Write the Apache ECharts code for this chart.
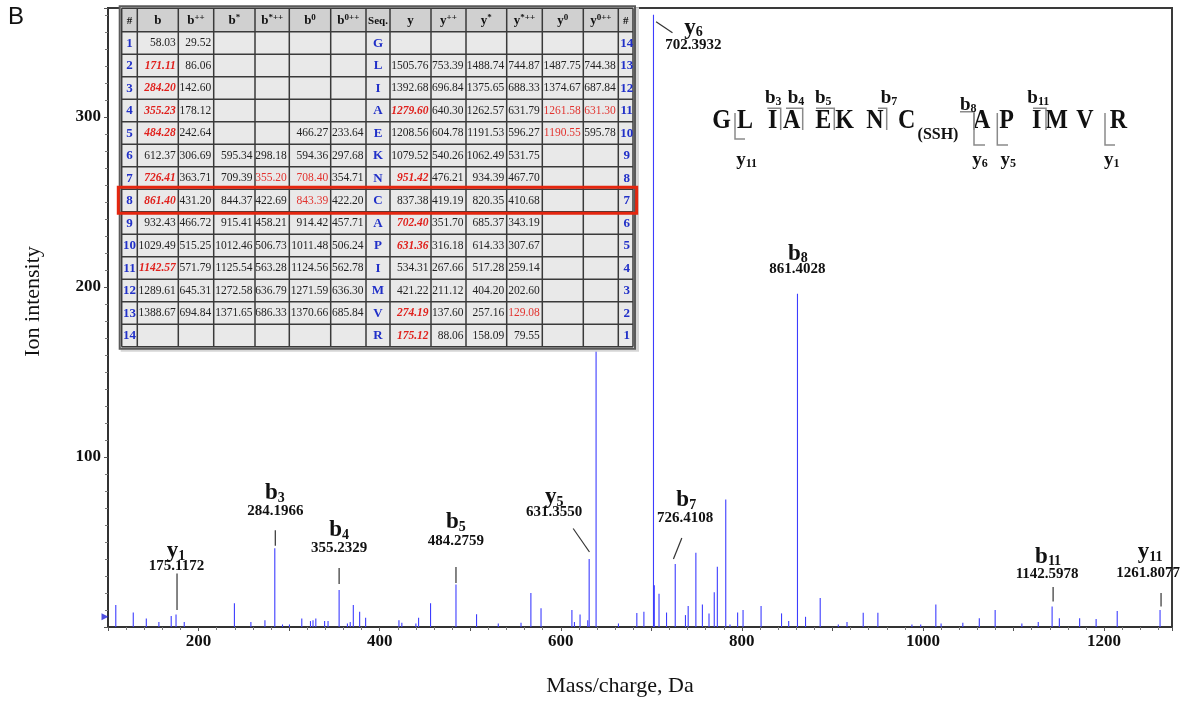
<!DOCTYPE html>
<html><head><meta charset="utf-8">
<script src="https://cdn.jsdelivr.net/npm/echarts@6/dist/echarts.min.js"></script>
<style>html,body{margin:0;padding:0;background:#fff}#c{width:1193px;height:703px}</style>
</head><body><div id="c"></div>
<script>
// ---------------- DATA ----------------
const peakMz = [108.6,127.9,142.3,156.2,169.8,175.12,184.2,239.6,257.8,273.3,284.2,292.7,300.4,314.0,323.6,326.4,329.5,339.2,343.0,355.23,364.4,367.5,370.9,377.9,384.5,421.3,424.5,440.0,443.0,456.2,484.28,507.0,531.0,556.1,567.0,578.2,612.3,615.1,621.3,629.8,631.36,639.0,663.7,684.0,691.8,702.39,703.3,708.5,716.8,726.41,737.7,740.7,749.2,756.4,763.7,769.5,772.9,782.2,786.9,795.3,801.3,821.2,843.8,851.7,861.40,870.3,886.5,906.5,916.1,934.0,950.2,987.8,997.5,1014.2,1020.0,1044.0,1062.2,1079.7,1109.2,1127.3,1142.6,1150.6,1173.0,1191.2,1214.5,1261.8];
const peakInt = [13,8.6,5,3,6.5,7.4,3,14,3,4,46.3,1.5,1.5,5,3.5,4,5,3.5,3.5,21.8,2,3,13,9,5.5,4,2.5,2,5.5,14,25,7.5,2,2.5,20,11,10,3,7.4,4,40,290,2,8.3,9,360,24.5,19.5,8.5,37,7,12.3,43.7,13.3,8,20.4,35.5,75,1.5,8.5,10,12.3,8,3.5,196,6,17,1.5,3,8.4,8.4,1.5,1.5,13.3,2,2.5,5.2,10,2,3,12,5.2,5.2,4.7,9.4,10];
const thresholdMark = [[100, 6]];

const annIon   = ['y','b','b','b','y','b','b','y','b','y'];
const annNum   = ['1','3','4','5','5','7','8','6','11','11'];
const annLabel = ['175.1172','284.1966','355.2329','484.2759','631.3550','726.4108','861.4028','702.3932','1142.5978','1261.8077'];
const annMz    = [175.12,284.2,355.23,484.28,631.36,726.41,861.40,702.39,1142.6,1261.8];

const xTicks = [200,400,600,800,1000,1200];
const yTicks = [100,200,300];

// fragment table
const tableHead = ['#','b','b++','b*','b*++','b0','b0++','Seq.','y','y++','y*','y*++','y0','y0++','#'];
const rowNo   = [1,2,3,4,5,6,7,8,9,10,11,12,13,14];
const bIon    = [58.03,171.11,284.20,355.23,484.28,612.37,726.41,861.40,932.43,1029.49,1142.57,1289.61,1388.67,null];
const bIon2   = [29.52,86.06,142.60,178.12,242.64,306.69,363.71,431.20,466.72,515.25,571.79,645.31,694.84,null];
const bStar   = [null,null,null,null,null,595.34,709.39,844.37,915.41,1012.46,1125.54,1272.58,1371.65,null];
const bStar2  = [null,null,null,null,null,298.18,355.20,422.69,458.21,506.73,563.28,636.79,686.33,null];
const bZero   = [null,null,null,null,466.27,594.36,708.40,843.39,914.42,1011.48,1124.56,1271.59,1370.66,null];
const bZero2  = [null,null,null,null,233.64,297.68,354.71,422.20,457.71,506.24,562.78,636.30,685.84,null];
const seqRes  = ['G','L','I','A','E','K','N','C','A','P','I','M','V','R'];
const yIon    = [null,1505.76,1392.68,1279.60,1208.56,1079.52,951.42,837.38,702.40,631.36,534.31,421.22,274.19,175.12];
const yIon2   = [null,753.39,696.84,640.30,604.78,540.26,476.21,419.19,351.70,316.18,267.66,211.12,137.60,88.06];
const yStar   = [null,1488.74,1375.65,1262.57,1191.53,1062.49,934.39,820.35,685.37,614.33,517.28,404.20,257.16,158.09];
const yStar2  = [null,744.87,688.33,631.79,596.27,531.75,467.70,410.68,343.19,307.67,259.14,202.60,129.08,79.55];
const yZero   = [null,1487.75,1374.67,1261.58,1190.55,null,null,null,null,null,null,null,null,null];
const yZero2  = [null,744.38,687.84,631.30,595.78,null,null,null,null,null,null,null,null,null];
const yNo     = [14,13,12,11,10,9,8,7,6,5,4,3,2,1];
const tableCols = [rowNo,bIon,bIon2,bStar,bStar2,bZero,bZero2,seqRes,yIon,yIon2,yStar,yStar2,yZero,yZero2,yNo];
// matched ions: column:row (1-based row)
const matchedMain = ['1:2','1:3','1:4','1:5','1:7','1:8','1:11','8:4','8:7','8:9','8:10','8:13','8:14'];
const matchedOther = ['4:7','5:7','5:8','12:4','13:4','12:5','11:13'];
const highlightRow = 8;

// peptide sequence diagram
const pepLetters = ['G','L','I','A','E','K','N','C','A','P','I','M','V','R'];
const pepMod = '(SSH)';
const pepCutIon = ['y','b','b','b','b','b','y','y','b','y'];
const pepCutNum = ['11','3','4','5','7','8','6','5','11','1'];

// ---------------- LAYOUT / STYLE ----------------
const SERIF = '"Liberation Serif","DejaVu Serif",serif';
const SANS = '"Liberation Sans",Arial,sans-serif';
const annLayout = [
  {name:[0,-63], num:[0.5,-48.5], lead:[[1,-41],[1,-4.5]]},
  {name:[0,-55], num:[0.5,-37.5], lead:[[0.5,-18],[0.5,-2.5]]},
  {name:[0,-60], num:[0,-41.5], lead:[[0,-22],[0,-6]]},
  {name:[0,-62], num:[0,-43.5], lead:[[0,-17.5],[0,-1.5]]},
  {name:[-35,-62], num:[-35,-47], lead:[[-16,-30.5],[0.3,-7]]},
  {name:[11,-64], num:[10,-46], lead:[[6.6,-26],[-1.8,-5]]},
  {name:[0.5,-40], num:[0,-25], lead:null},
  {name:[40,13], num:[40,30], lead:[[2.6,7],[19,18]]},
  {name:[-4,-50], num:[-5,-32], lead:[[1,-19.5],[1,-5]]},
  {name:[-10,-58], num:[-12,-37], lead:[[1,-17],[1,-3.5]]}
];
const pepX = [721.7,745,772.7,791.7,823.3,844.5,875,906.7,981.7,1006.7,1036.7,1056.7,1085,1118.3];
const pepY = 121;
const pepModPos = [938, 135];
const pepCutLayout = [
  {x:735, t:113, b:139, hx:745, hy:139, lx:746.7, ly:160},
  {x:780.7, t:108.3, b:130, hx:767.3, hy:108.3, lx:773.3, ly:98.3},
  {x:802.7, t:108.3, b:130, hx:786, hy:108.3, lx:796, ly:98.3},
  {x:834.3, t:108.3, b:130, hx:816, hy:108.3, lx:823.3, ly:98.3},
  {x:886.7, t:108.3, b:130, hx:878, hy:108.3, lx:889, ly:98.3},
  {x:974, t:111.7, b:130, hx:960, hy:111.7, lx:968.3, ly:105},
  {x:974, t:113, b:145, hx:985, hy:145, lx:980, ly:160},
  {x:997.3, t:113, b:145, hx:1008, hy:145, lx:1008.3, ly:160},
  {x:1046, t:108.3, b:130, hx:1033, hy:108.3, lx:1038.3, ly:98.3},
  {x:1105, t:113, b:145, hx:1115, hy:145, lx:1111.7, ly:160}
];
const TL = {x:[121.7,137.3,178.3,213.7,255,289.3,330.7,366,390,431,466,506.7,542.3,583.3,618.3,633], top:8.3, headH:23.4, rowH:22.5};

function intensityAt(m){
  let best=0;
  for(let i=1;i<peakMz.length;i++) if(Math.abs(peakMz[i]-m)<Math.abs(peakMz[best]-m)) best=i;
  return peakInt[best];
}

function buildTable(){
  const els=[]; const Z=100;
  const x0=TL.x[0], x1=TL.x[TL.x.length-1];
  const yTop=TL.top, yHead=TL.top+TL.headH, yBot=yHead+14*TL.rowH;
  els.push({type:'rect', z:Z, shape:{x:x0-1, y:yTop-1, width:x1-x0+7, height:yBot-yTop+6}, style:{fill:'#d6d6d6'}});
  els.push({type:'rect', z:Z, shape:{x:x0-2, y:yTop-2, width:x1-x0+4, height:yBot-yTop+4}, style:{fill:'#e9e9e9', stroke:'#5a5a5a', lineWidth:2}});
  els.push({type:'rect', z:Z, shape:{x:x0, y:yTop, width:x1-x0, height:TL.headH}, style:{fill:'#d0d0d0'}});
  for(let c=0;c<TL.x.length;c++) els.push({type:'line', z:Z+1, shape:{x1:TL.x[c], y1:yTop, x2:TL.x[c], y2:yBot}, style:{stroke:'#3a3a3a', lineWidth:1.5}});
  for(let r=0;r<=15;r++){ const y = r===0? yTop : yHead+(r-1)*TL.rowH;
    els.push({type:'line', z:Z+1, shape:{x1:x0, y1:y, x2:x1, y2:y}, style:{stroke:'#3a3a3a', lineWidth:1.5}}); }
  tableHead.forEach((h,c)=>{
    const cx=(TL.x[c]+TL.x[c+1])/2;
    let txt;
    if(h==='#'||h==='Seq.') txt='{s|'+h+'}';
    else { const sup=h.slice(1); txt='{m|'+h[0]+'}'+(sup?'{p|'+sup+'}':''); }
    els.push({type:'text', z:Z+2, x:cx, y:yTop+TL.headH/2+1, style:{text:txt, align:'center', verticalAlign:'middle',
      rich:{m:{fontFamily:SERIF,fontWeight:'bold',fontSize:13,fill:'#111',lineHeight:16},
            s:{fontFamily:SERIF,fontWeight:'bold',fontSize:11,fill:'#111',lineHeight:16},
            p:{fontFamily:SERIF,fontWeight:'bold',fontSize:9,fill:'#111',lineHeight:9,verticalAlign:'top'}}}});
  });
  tableCols.forEach((col,c)=>{
    col.forEach((v,r)=>{
      if(v===null||v===undefined) return;
      const cy=yHead+r*TL.rowH+TL.rowH/2+0.5;
      const key=c+':'+(r+1);
      if(c===0||c===7||c===14){
        els.push({type:'text', z:Z+2, x:(TL.x[c]+TL.x[c+1])/2+(c===14?1:0), y:cy, style:{text:String(v), align:'center', verticalAlign:'middle',
          font:'bold 13px '+SERIF, fill:'#2130c8'}});
      } else {
        let font='11.5px '+SERIF, fill='#222';
        if(matchedMain.includes(key)){font='italic bold 11.5px '+SERIF; fill='#e0201c';}
        else if(matchedOther.includes(key)){fill='#e2332f';}
        els.push({type:'text', z:Z+2, x:TL.x[c+1]-2.5, y:cy, style:{text:v.toFixed(2), align:'right', verticalAlign:'middle', font:font, fill:fill}});
      }
    });
  });
  const hy=yHead+(highlightRow-1)*TL.rowH;
  els.push({type:'rect', z:Z+3, shape:{x:118.3, y:hy-2, width:636.7-118.3, height:TL.rowH+3.5}, style:{fill:'none', stroke:'#e5260f', lineWidth:3}});
  return els;
}

function buildPeptide(){
  const els=[]; const Z=50;
  pepLetters.forEach((L,i)=>{
    els.push({type:'text', z:Z, x:pepX[i], y:pepY, scaleY:1.15, style:{text:L, align:'center', verticalAlign:'middle', font:'bold 24px '+SERIF, fill:'#111'}});
  });
  els.push({type:'text', z:Z, x:pepModPos[0], y:pepModPos[1], style:{text:pepMod, align:'center', verticalAlign:'middle', font:'bold 16px '+SERIF, fill:'#111'}});
  pepCutLayout.forEach((p,i)=>{
    els.push({type:'polyline', z:Z, shape:{points: pepCutIon[i]==='b' ? [[p.hx,p.hy],[p.x,p.t],[p.x,p.b]] : [[p.x,p.t],[p.x,p.b],[p.hx,p.hy]]},
      style:{stroke:'#8a8a8a', lineWidth:1.5, fill:'none'}});
    els.push({type:'text', z:Z, x:p.lx, y:p.ly, style:{text:'{m|'+pepCutIon[i]+'}{s|'+pepCutNum[i]+'}', align:'center', verticalAlign:'middle',
      rich:{m:{fontFamily:SERIF,fontWeight:'bold',fontSize:19,fill:'#111',lineHeight:20},
            s:{fontFamily:SERIF,fontWeight:'bold',fontSize:12,fill:'#111',lineHeight:12,verticalAlign:'bottom'}}}});
  });
  return els;
}

const chart = echarts.init(document.getElementById('c'));
chart.setOption({
  animation:false,
  backgroundColor:'#fff',
  grid:{left:108, right:21, top:8, bottom:76, show:true, borderColor:'#3a3a3a', borderWidth:2},
  xAxis:{type:'value', min:100, max:1275, interval:100,
    name:'Mass/charge, Da', nameLocation:'middle', nameGap:48,
    nameTextStyle:{fontFamily:SERIF, fontSize:22, color:'#111', padding:[0,40,0,0]},
    axisLine:{show:true, onZero:false, lineStyle:{color:'#333', width:2}},
    axisTick:{show:true, length:4, lineStyle:{color:'#555'}},
    minorTick:{show:true, splitNumber:5, length:3, lineStyle:{color:'#777'}},
    splitLine:{show:false},
    axisLabel:{formatter:v=> xTicks.includes(v)? String(v):'', fontFamily:SERIF, fontWeight:'bold', fontSize:17, color:'#111', margin:6, showMaxLabel:false}},
  yAxis:{type:'value', min:0, max:364, interval:100,
    name:'Ion intensity', nameLocation:'middle', nameGap:64,
    nameTextStyle:{fontFamily:SERIF, fontSize:22, color:'#111', padding:[0,0,0,32]},
    axisLine:{show:true, lineStyle:{color:'#333', width:2}},
    axisTick:{show:true, length:4, lineStyle:{color:'#555'}},
    minorTick:{show:true, splitNumber:10, length:3, lineStyle:{color:'#777'}},
    splitLine:{show:false},
    axisLabel:{formatter:v=> yTicks.includes(v)? String(v):'', fontFamily:SERIF, fontWeight:'bold', fontSize:17, color:'#111', margin:7, showMaxLabel:false}},
  series:[
    {type:'custom', name:'spectrum', z:3, clip:true,
     data: peakMz.map((m,i)=>[m, peakInt[i]]),
     renderItem:(params, api)=>{
       const a=api.coord([api.value(0),0]), b=api.coord([api.value(0),api.value(1)]);
       return {type:'line', shape:{x1:a[0],y1:a[1],x2:b[0],y2:b[1]}, style:{stroke:'#3d3dff', lineWidth:1.1}};
     }},
    {type:'scatter', z:4, clip:false, data:thresholdMark, symbol:'triangle', symbolRotate:-90, symbolSize:7, symbolOffset:[-3,0], itemStyle:{color:'#2323d8'}},
    {type:'custom', name:'labels', z:5, clip:false,
     data: annMz.map((m,i)=>[m, intensityAt(m), i]),
     renderItem:(params, api)=>{
       const i=api.value(2); const p=api.coord([api.value(0),api.value(1)]); const L=annLayout[i];
       const ch=[
         {type:'text', x:p[0]+L.name[0], y:p[1]+L.name[1], style:{text:'{m|'+annIon[i]+'}{s|'+annNum[i]+'}', align:'center', verticalAlign:'middle',
           rich:{m:{fontFamily:SERIF,fontWeight:'bold',fontSize:23,fill:'#111',lineHeight:24},
                 s:{fontFamily:SERIF,fontWeight:'bold',fontSize:14,fill:'#111',lineHeight:14,verticalAlign:'bottom'}}}},
         {type:'text', x:p[0]+L.num[0], y:p[1]+L.num[1], style:{text:annLabel[i], align:'center', verticalAlign:'middle', font:'bold 15px '+SERIF, fill:'#111'}}
       ];
       if(L.lead) ch.push({type:'line', shape:{x1:p[0]+L.lead[0][0], y1:p[1]+L.lead[0][1], x2:p[0]+L.lead[1][0], y2:p[1]+L.lead[1][1]}, style:{stroke:'#333', lineWidth:1.2}});
       return {type:'group', children:ch};
     }}
  ],
  graphic:{elements:[
    {type:'text', left:8, top:5, style:{text:'B', font:'24px '+SANS, fill:'#111'}},
    ...buildTable(),
    ...buildPeptide()
  ]}
});
</script></body></html>
